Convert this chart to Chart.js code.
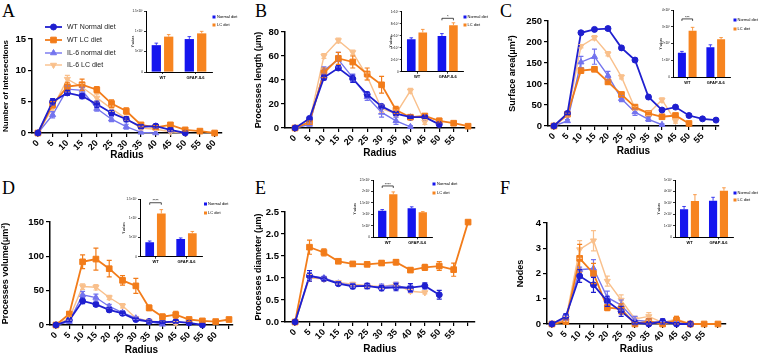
<!DOCTYPE html>
<html>
<head>
<meta charset="utf-8">
<title>Astrocyte morphology</title>
<script src="https://cdn.jsdelivr.net/npm/chart.js@4.4.1/dist/chart.umd.min.js"></script>
<style>
  body { margin: 0; width: 758px; height: 354px; overflow: hidden; background: #fff; position: relative; }
  canvas { position: absolute; }
  .tag { position: absolute; font: 18px/18px 'Liberation Serif', 'Times New Roman', serif; color: #000; }
</style>
</head>
<body>
<div class="tag" style="left:2px;top:2px">A</div>
<div class="tag" style="left:255px;top:2px">B</div>
<div class="tag" style="left:500px;top:2px">C</div>
<div class="tag" style="left:2px;top:179px">D</div>
<div class="tag" style="left:255px;top:179px">E</div>
<div class="tag" style="left:500px;top:179px">F</div>

<canvas id="lineA" width="253" height="177" style="left:0;top:0"></canvas>
<canvas id="lineB" width="253" height="177" style="left:253px;top:0"></canvas>
<canvas id="lineC" width="252" height="177" style="left:506px;top:0"></canvas>
<canvas id="lineD" width="253" height="185" style="left:0;top:177px"></canvas>
<canvas id="lineE" width="253" height="185" style="left:253px;top:177px"></canvas>
<canvas id="lineF" width="252" height="185" style="left:506px;top:177px"></canvas>
<canvas id="barA" width="120" height="80" style="left:125px;top:4px"></canvas>
<canvas id="barB" width="122" height="80" style="left:378px;top:4px"></canvas>
<canvas id="barC" width="113" height="85" style="left:645px;top:2px"></canvas>
<canvas id="barD" width="128" height="80" style="left:112px;top:189px"></canvas>
<canvas id="barE" width="117" height="75" style="left:348px;top:174px"></canvas>
<canvas id="barF" width="113" height="75" style="left:645px;top:174px"></canvas>

<script>
const FONT = "'Liberation Sans', Arial, sans-serif";
Chart.defaults.font.family = FONT;
Chart.defaults.color = '#000';

// ---- shared ----
const radius = [0, 5, 10, 15, 20, 25, 30, 35, 40, 45, 50, 55, 60, 65];
const xLabels60 = ['0', '5', '10', '15', '20', '25', '30', '35', '40', '45', '50', '55', '60'];
const xLabels55 = ['0', '5', '10', '15', '20', '25', '30', '35', '40', '45', '50', '55', ''];
const xLabels65 = ['0', '5', '10', '15', '20', '25', '30', '35', '40', '45', '50', '55', '60', ''];
const seriesNames = ['WT Normal diet', 'WT LC diet', 'IL-6 normal diet', 'IL-6 LC diet'];
const groupLabels = ['WT', 'GFAP-IL6'];
const dietNames = ['Normal diet', 'LC diet'];

// ---- A: number of intersections ----
const intTicks = [0, 5, 10, 15];
const intWtN = [0, 5.0, 6.4, 5.9, 4.6, 3.2, 2.2, 1.0, 1.1, 0.5, 0];
const intWtNErr = [0, 0.5, 0.4, 0.4, 0.5, 0.4, 0.4, 0.3, 0.3, 0.3, 0.1];
const intWtL = [0, 4.5, 7.4, 7.7, 6.9, 4.7, 3.5, 1.3, 0.9, 1.3, 0.5, 0.3, 0];
const intWtLErr = [0, 0.5, 0.7, 0.9, 0.5, 0.6, 0.5, 0.3, 0.3, 0.3, 0.2, 0.2, 0.1];
const intIlN = [0, 2.9, 7.0, 6.8, 3.9, 2.2, 1.0, 0.1, 0];
const intIlNErr = [0, 0.5, 0.5, 0.5, 0.4, 0.4, 0.4, 0.1, 0];
const intIlL = [0, 4.0, 8.6, 7.3, 5.6, 3.9, 2.3, 0.8, 0.6, 0.2, 0];
const intIlLErr = [0, 0.5, 0.6, 0.6, 0.6, 0.4, 0.4, 0.3, 0.2, 0.1, 0];
const intBarTicks = [0, 0.5, 1, 1.5];
const intBarLabels = ['0', '5×10⁴', '1×10⁵', '1.5×10⁵'];
const intBarN = [0.66, 0.81];
const intBarNErr = [0.05, 0.06];
const intBarL = [0.87, 0.95];
const intBarLErr = [0.05, 0.05];

// ---- B: processes length ----
const lenTicks = [0, 20, 40, 60, 80];
const lenWtN = [0, 8, 42, 50, 41, 28, 18, 12, 9, 9, 3];
const lenWtNErr = [0, 1, 2, 2, 3, 2, 1, 1, 1, 1, 1];
const lenWtL = [0, 5, 46, 58, 55, 45, 36, 15, 9, 10, 6, 4, 1.5];
const lenWtLErr = [0, 2, 4, 5, 5, 5, 7, 3, 2, 2, 2, 1, 1];
const lenIlN = [0, 3, 48, 57, 42, 26, 13, 6, 1];
const lenIlNErr = [0, 1, 3, 6, 3, 3, 4, 3, 1];
const lenIlL = [0, 5, 60, 73, 63, 43, 16, 12, 31, 5];
const lenIlLErr = [0, 2, 2, 2, 2, 3, 3, 3, 2, 2];
const lenBarTicks = [0, 2, 4, 6, 8, 10];
const lenBarLabels = ['0', '2×10⁴', '4×10⁴', '6×10⁴', '8×10⁴', '1×10⁵'];
const lenBarN = [5.4, 5.95];
const lenBarNErr = [0.25, 0.4];
const lenBarL = [6.55, 7.75];
const lenBarLErr = [0.5, 0.4];

// ---- C: surface area ----
const surTicks = [0, 50, 100, 150, 200, 250];
const surWtN = [0, 30, 222, 230, 232, 186, 157, 69, 38, 45, 25, 17, 14];
const surWtNErr = [0, 3, 4, 4, 4, 4, 4, 4, 3, 3, 3, 3, 3];
const surWtL = [0, 28, 132, 135, 105, 75, 45, 30, 22, 25, 6];
const surWtLErr = [0, 4, 6, 5, 5, 5, 4, 3, 3, 3, 2];
const surIlN = [0, 12, 152, 165, 120, 65, 33, 16, 3];
const surIlNErr = [0, 3, 14, 18, 10, 7, 8, 5, 2];
const surIlL = [0, 25, 190, 210, 172, 117, 42, 30, 62, 12];
const surIlLErr = [0, 3, 4, 5, 5, 5, 5, 5, 5, 5];
const surBarTicks = [0, 1, 2, 3, 4];
const surBarLabels = ['0', '1×10⁶', '2×10⁶', '3×10⁶', '4×10⁶'];
const surBarN = [1.46, 1.78];
const surBarNErr = [0.08, 0.15];
const surBarL = [2.77, 2.26];
const surBarLErr = [0.2, 0.1];

// ---- D: processes volume ----
const volTicks = [0, 50, 100, 150];
const volWtN = [0, 7, 35, 30, 22, 17, 8, 5, 4, 5, 3, 0];
const volWtNErr = [0, 2, 4, 3, 3, 3, 2, 2, 2, 2, 1, 1];
const volWtL = [0, 16, 92, 96, 82, 65, 57, 25, 12, 15, 8, 6, 5, 8];
const volWtLErr = [0, 3, 10, 16, 12, 7, 11, 4, 4, 5, 3, 2, 2, 2];
const volIlN = [0, 5, 44, 40, 27, 18, 10, 5, 1];
const volIlNErr = [0, 2, 5, 5, 3, 3, 2, 2, 1];
const volIlL = [0, 10, 56, 55, 40, 28, 10, 6, 4, 3];
const volIlLErr = [0, 3, 4, 4, 3, 3, 2, 2, 2, 2];
const volBarTicks = [0, 0.5, 1, 1.5];
const volBarLabels = ['0', '5×10⁴', '1×10⁵', '1.5×10⁵'];
const volBarN = [0.38, 0.46];
const volBarNErr = [0.03, 0.03];
const volBarL = [1.13, 0.61];
const volBarLErr = [0.1, 0.05];

// ---- E: processes diameter ----
const diaTicks = [0, 0.5, 1, 1.5, 2, 2.5];
const diaWtN = [0, 1.05, 0.98, 0.87, 0.81, 0.82, 0.77, 0.79, 0.78, 0.82, 0.62];
const diaWtNErr = [0, 0.12, 0.04, 0.04, 0.05, 0.06, 0.06, 0.08, 0.09, 0.07, 0.1];
const diaWtL = [0, 1.7, 1.58, 1.38, 1.32, 1.31, 1.34, 1.36, 1.18, 1.24, 1.27, 1.19, 2.27];
const diaWtLErr = [0, 0.16, 0.08, 0.04, 0.04, 0.04, 0.05, 0.06, 0.05, 0.07, 0.1, 0.15, 0.03];
const diaIlN = [0, 1.05, 1.0, 0.88, 0.83, 0.81, 0.80, 0.83, 0.75];
const diaIlNErr = [0, 0.08, 0.04, 0.04, 0.05, 0.05, 0.06, 0.07, 0.08];
const diaIlL = [0, 1.0, 0.98, 0.90, 0.86, 0.83, 0.80, 0.86, 0.70, 0.67];
const diaIlLErr = [0, 0.08, 0.04, 0.04, 0.04, 0.04, 0.04, 0.04, 0.04, 0.03];
const diaBarTicks = [0, 0.5, 1, 1.5, 2, 2.5];
const diaBarLabels = ['0', '5×10⁶', '1×10⁷', '1.5×10⁷', '2×10⁷', '2.5×10⁷'];
const diaBarN = [1.16, 1.27];
const diaBarNErr = [0.05, 0.06];
const diaBarL = [1.88, 1.09];
const diaBarLErr = [0.1, 0.03];

// ---- F: nodes ----
const nodTicks = [0, 1, 2, 3, 4];
const nodWtN = [0, 0.3, 1.9, 1.55, 0.9, 0.5, 0.05, 0, 0.1, 0, 0];
const nodWtNErr = [0, 0.1, 0.25, 0.3, 0.2, 0.2, 0.05, 0.05, 0.1, 0.05, 0.05];
const nodWtL = [0, 0.1, 2.6, 2.0, 0.65, 0.6, 0, 0.1, 0, 0.15, 0, 0, 0];
const nodWtLErr = [0, 0.1, 0.55, 0.4, 0.12, 0.2, 0.05, 0.1, 0.05, 0.15, 0.05, 0.05, 0.05];
const nodIlN = [0, 0.25, 2.15, 2.2, 1.05, 0.75, 0.15, 0.1, 0.05, 0.05, 0];
const nodIlNErr = [0, 0.1, 0.1, 0.35, 0.25, 0.2, 0.15, 0.1, 0.05, 0.05, 0.05];
const nodIlL = [0, 0.2, 2.95, 3.3, 1.7, 0.95, 0.2, 0.3, 0.05, 0.2, 0];
const nodIlLErr = [0, 0.1, 0.35, 0.4, 0.2, 0.2, 0.1, 0.15, 0.05, 0.1, 0.05];
const nodBarTicks = [0, 1, 2, 3, 4, 5];
const nodBarLabels = ['0', '1×10⁴', '2×10⁴', '3×10⁴', '4×10⁴', '5×10⁴'];
const nodBarN = [2.44, 3.19];
const nodBarNErr = [0.25, 0.3];
const nodBarL = [3.17, 4.07];
const nodBarLErr = [0.55, 0.25];

// styles
const lineStyles = [
  { color: '#1f1fcf', point: 'circle', r: 3, rot: 0, w: 1.8 },
  { color: '#f27c1a', point: 'rect', r: 4, rot: 0, w: 1.8 },
  { color: '#7474ee', point: 'triangle', r: 3.5, rot: 0, w: 1.4 },
  { color: '#f9c08c', point: 'triangle', r: 3.5, rot: 180, w: 1.4 }
];
const BLUE = '#1515ee';
const ORANGE = '#f7841f';

// vertical error bars through the y scale
const errorBars = {
  id: 'errorBars',
  afterDatasetsDraw(chart) {
    const { ctx } = chart;
    const y = chart.scales.y;
    ctx.save();
    for (let i = chart.data.datasets.length - 1; i >= 0; i--) {
      const ds = chart.data.datasets[i];
      if (!ds.err) continue;
      const meta = chart.getDatasetMeta(i);
      const cap = ds.capHalf || 2.5;
      ctx.strokeStyle = ds.borderColor;
      ctx.lineWidth = ds.errWidth || 1.2;
      meta.data.forEach((el, j) => {
        const e = ds.err[j];
        if (!e) return;
        const raw = ds.data[j];
        const v = typeof raw === 'object' ? raw.y : raw;
        const top = y.getPixelForValue(v + e);
        const bot = ds.upOnly ? el.y : y.getPixelForValue(v - e);
        ctx.beginPath();
        ctx.moveTo(el.x, top); ctx.lineTo(el.x, bot);
        ctx.moveTo(el.x - cap, top); ctx.lineTo(el.x + cap, top);
        if (!ds.upOnly) { ctx.moveTo(el.x - cap, bot); ctx.lineTo(el.x + cap, bot); }
        ctx.stroke();
      });
    }
    ctx.restore();
  }
};

// legend with line + marker, placed freely (panel A)
function seriesLegend(cfg) {
  return {
    id: 'seriesLegend',
    afterDraw(chart) {
      const ctx = chart.ctx;
      ctx.save();
      ctx.font = `7px ${FONT}`;
      ctx.textBaseline = 'middle';
      chart.data.datasets.forEach((ds, i) => {
        const st = lineStyles[i], y = cfg.ys[i];
        ctx.strokeStyle = st.color;
        ctx.fillStyle = st.color;
        ctx.lineWidth = st.w;
        ctx.beginPath(); ctx.moveTo(cfg.x1, y); ctx.lineTo(cfg.x2, y); ctx.stroke();
        ctx.lineWidth = 1;
        Chart.helpers.drawPoint(ctx, { pointStyle: st.point, radius: st.r, rotation: st.rot, borderWidth: 1 }, (cfg.x1 + cfg.x2) / 2, y);
        ctx.fillStyle = '#222';
        ctx.fillText(ds.label, cfg.tx, y);
      });
      ctx.restore();
    }
  };
}

function lineChart(id, o) {
  const cv = document.getElementById(id);
  const cl = cv.offsetLeft, ct = cv.offsetTop;
  const yLh = o.yTitleSize * 1.2, xLh = 10 * 1.2;
  const padLeft = o.yTitleX - cl - yLh / 2;
  const xBottom = o.xTitleY - ct + xLh / 2;
  const axisGrid = { drawOnChartArea: false, tickLength: 4, color: '#000', lineWidth: 1.2 };
  const axisBorder = { color: '#000', width: 1.5 };
  const plugins = [errorBars];
  if (o.legend) plugins.push(seriesLegend(o.legend));
  new Chart(cv, {
    type: 'line',
    data: {
      datasets: o.series.map((s, i) => {
        const st = lineStyles[i];
        return {
          label: seriesNames[i],
          data: s[0].map((v, j) => ({ x: radius[j], y: v })),
          err: s[1],
          borderColor: st.color, backgroundColor: st.color,
          pointBackgroundColor: st.color, pointBorderColor: st.color,
          pointStyle: st.point, pointRotation: st.rot, pointRadius: st.r,
          borderWidth: st.w, pointBorderWidth: 1, clip: false
        };
      })
    },
    options: {
      responsive: false, animation: false, devicePixelRatio: 1,
      layout: { padding: { left: padLeft, top: o.plot[1] - ct, right: cv.width - (o.plot[2] - cl), bottom: cv.height - xBottom } },
      plugins: { legend: { display: false }, tooltip: { enabled: false } },
      scales: {
        x: {
          type: 'linear', bounds: 'data', min: o.xMin, max: o.xMax,
          afterBuildTicks: s => { s.ticks = o.xLabels.map((_, j) => ({ value: radius[j] })); },
          afterFit: s => { s.height = xBottom - (o.plot[3] - ct); },
          ticks: { autoSkip: false, minRotation: 45, maxRotation: 45, padding: 1, font: { size: 9, weight: 'bold' }, callback: (v, j) => o.xLabels[j] },
          grid: axisGrid, border: axisBorder,
          title: { display: true, text: 'Radius', padding: 0, font: { size: 10, weight: 'bold' } }
        },
        y: {
          type: 'linear', bounds: 'data', min: 0, max: o.yTicks[o.yTicks.length - 1],
          afterBuildTicks: s => { s.ticks = o.yTicks.map(v => ({ value: v })); },
          afterFit: s => { s.width = o.plot[0] - cl - padLeft; },
          ticks: { padding: 2, font: { size: 9.5, weight: 'bold' }, callback: v => o.yDec ? v.toFixed(o.yDec) : v },
          grid: axisGrid, border: axisBorder,
          title: { display: true, text: o.yTitle, padding: 0, font: { size: o.yTitleSize, weight: 'bold' } }
        }
      }
    },
    plugins
  });
}

// legend squares and significance bracket for the insets
function insetExtras(o) {
  return {
    id: 'insetExtras',
    afterDraw(chart) {
      const ctx = chart.ctx, cl = chart.canvas.offsetLeft, ct = chart.canvas.offsetTop;
      ctx.save();
      ctx.font = `4px ${FONT}`;
      ctx.textBaseline = 'middle';
      chart.data.datasets.forEach((ds, i) => {
        const y = o.legend.rows[i] - ct;
        ctx.fillStyle = ds.backgroundColor;
        ctx.fillRect(o.legend.sq - cl, y - 1.5, 3, 3);
        ctx.fillStyle = '#000';
        ctx.fillText(ds.label, o.legend.text - cl, y);
      });
      if (o.sig) {
        const a = chart.getDatasetMeta(0).data[o.sig.group].x;
        const b = chart.getDatasetMeta(1).data[o.sig.group].x;
        const y = chart.scales.y.getPixelForValue(o.sig.level);
        ctx.strokeStyle = '#000';
        ctx.lineWidth = 0.7;
        ctx.beginPath();
        ctx.moveTo(a, y + 2); ctx.lineTo(a, y); ctx.lineTo(b, y); ctx.lineTo(b, y + 2);
        ctx.stroke();
        ctx.textAlign = 'center';
        ctx.textBaseline = 'bottom';
        ctx.fillText(o.sig.text, (a + b) / 2, y + 0.5);
      }
      ctx.restore();
    }
  };
}

function insetChart(id, o) {
  const cv = document.getElementById(id);
  const cl = cv.offsetLeft, ct = cv.offsetTop;
  const tSize = 3, tLh = tSize * 1.2;
  const padLeft = o.yTitleX - cl - tLh / 2;
  const xH = 8;
  const B = o.plot[3] - ct;
  const grid = { drawOnChartArea: false, tickLength: 2, color: '#000', lineWidth: 0.8 };
  const border = { color: '#000', width: 1 };
  const barDs = (label, data, err, color) => ({
    label, data, err, upOnly: true, backgroundColor: color, borderColor: color,
    capHalf: 1.8, errWidth: 0.8, categoryPercentage: 0.75, barPercentage: 0.75
  });
  new Chart(cv, {
    type: 'bar',
    data: {
      labels: groupLabels,
      datasets: [barDs(dietNames[0], o.normal, o.normalErr, BLUE), barDs(dietNames[1], o.lc, o.lcErr, ORANGE)]
    },
    options: {
      responsive: false, animation: false, devicePixelRatio: 1,
      layout: { padding: { left: padLeft, top: o.plot[1] - ct, right: cv.width - (o.plot[2] - cl), bottom: cv.height - B - xH } },
      plugins: { legend: { display: false }, tooltip: { enabled: false } },
      scales: {
        x: {
          afterFit: s => { s.height = xH; },
          ticks: { padding: 1, font: { size: 4, weight: 'bold' } },
          grid: Object.assign({ offset: false }, grid), border
        },
        y: {
          bounds: 'data', min: 0, max: o.yTicks[o.yTicks.length - 1],
          afterBuildTicks: s => { s.ticks = o.yTicks.map(v => ({ value: v })); },
          afterFit: s => { s.width = o.plot[0] - cl - padLeft; },
          ticks: { padding: 1, font: { size: 3 }, callback: (v, j) => o.yLabels[j] },
          grid, border,
          title: { display: true, text: 'Y values', padding: 0, font: { size: tSize } }
        }
      }
    },
    plugins: [errorBars, insetExtras(o)]
  });
}

// ---- main panels ----
lineChart('lineA', {
  plot: [32, 39, 222, 133], yTitle: 'Number of Intersections', yTitleSize: 8, yTitleX: 5.5, xTitleY: 155,
  yTicks: intTicks, xMin: -2, xMax: 62.5, xLabels: xLabels60,
  series: [[intWtN, intWtNErr], [intWtL, intWtLErr], [intIlN, intIlNErr], [intIlL, intIlLErr]],
  legend: { x1: 45, x2: 62, tx: 67, ys: [27, 40, 53, 65] }
});
lineChart('lineB', {
  plot: [285, 32, 475, 128], yTitle: 'Processes length (μm)', yTitleSize: 9, yTitleX: 259, xTitleY: 153,
  yTicks: lenTicks, xMin: -3.5, xMax: 62.4, xLabels: xLabels55,
  series: [[lenWtN, lenWtNErr], [lenWtL, lenWtLErr], [lenIlN, lenIlNErr], [lenIlL, lenIlLErr]]
});
lineChart('lineC', {
  plot: [548, 21, 719, 126], yTitle: 'Surface area(μm²)', yTitleSize: 9, yTitleX: 513, xTitleY: 151,
  yTicks: surTicks, xMin: -2.2, xMax: 61.1, xLabels: xLabels55,
  series: [[surWtN, surWtNErr], [surWtL, surWtLErr], [surIlN, surIlNErr], [surIlL, surIlLErr]]
});
lineChart('lineD', {
  plot: [50, 222, 233, 325], yTitle: 'Processes volume(μm³)', yTitleSize: 9, yTitleX: 6, xTitleY: 350,
  yTicks: volTicks, xMin: -2.25, xMax: 66.5, xLabels: xLabels65,
  series: [[volWtN, volWtNErr], [volWtL, volWtLErr], [volIlN, volIlNErr], [volIlL, volIlLErr]]
});
lineChart('lineE', {
  plot: [285, 212, 475, 322], yTitle: 'Processes diameter (μm)', yTitleSize: 9, yTitleX: 259, xTitleY: 349,
  yTicks: diaTicks, yDec: 1, xMin: -3.5, xMax: 62.4, xLabels: xLabels55,
  series: [[diaWtN, diaWtNErr], [diaWtL, diaWtLErr], [diaIlN, diaIlNErr], [diaIlL, diaIlLErr]]
});
lineChart('lineF', {
  plot: [547, 223, 726, 324], yTitle: 'Nodes', yTitleSize: 9, yTitleX: 521, xTitleY: 349,
  yTicks: nodTicks, xMin: -1.8, xMax: 62.9, xLabels: xLabels55,
  series: [[nodWtN, nodWtNErr], [nodWtL, nodWtLErr], [nodIlN, nodIlNErr], [nodIlL, nodIlLErr]]
});

// ---- insets ----
insetChart('barA', {
  plot: [146, 11, 212, 72], yTitleX: 133, yTicks: intBarTicks, yLabels: intBarLabels,
  normal: intBarN, normalErr: intBarNErr, lc: intBarL, lcErr: intBarLErr,
  legend: { sq: 212.5, text: 217, rows: [17, 25] }
});
insetChart('barB', {
  plot: [401.7, 11.7, 463, 71.7], yTitleX: 391, yTicks: lenBarTicks, yLabels: lenBarLabels,
  normal: lenBarN, normalErr: lenBarNErr, lc: lenBarL, lcErr: lenBarLErr,
  legend: { sq: 463.5, text: 467.5, rows: [17, 25] },
  sig: { group: 1, level: 8.9, text: '*' }
});
insetChart('barC', {
  plot: [673, 10, 730, 77.3], yTitleX: 660.7, yTicks: surBarTicks, yLabels: surBarLabels,
  normal: surBarN, normalErr: surBarNErr, lc: surBarL, lcErr: surBarLErr,
  legend: { sq: 733.5, text: 737.5, rows: [20, 29] },
  sig: { group: 0, level: 3.47, text: '***' }
});
insetChart('barD', {
  plot: [140, 199.3, 202, 256.7], yTitleX: 124, yTicks: volBarTicks, yLabels: volBarLabels,
  normal: volBarN, normalErr: volBarNErr, lc: volBarL, lcErr: volBarLErr,
  legend: { sq: 204, text: 208, rows: [204, 213] },
  sig: { group: 0, level: 1.41, text: '****' }
});
insetChart('barE', {
  plot: [373, 180, 432, 237.3], yTitleX: 355, yTicks: diaBarTicks, yLabels: diaBarLabels,
  normal: diaBarN, normalErr: diaBarNErr, lc: diaBarL, lcErr: diaBarLErr,
  legend: { sq: 432.5, text: 437, rows: [184, 193] },
  sig: { group: 0, level: 2.24, text: '****' }
});
insetChart('barF', {
  plot: [675, 180, 733, 237.3], yTitleX: 659, yTicks: nodBarTicks, yLabels: nodBarLabels,
  normal: nodBarN, normalErr: nodBarNErr, lc: nodBarL, lcErr: nodBarLErr,
  legend: { sq: 733.5, text: 737.5, rows: [193, 200] }
});
</script>
</body>
</html>
